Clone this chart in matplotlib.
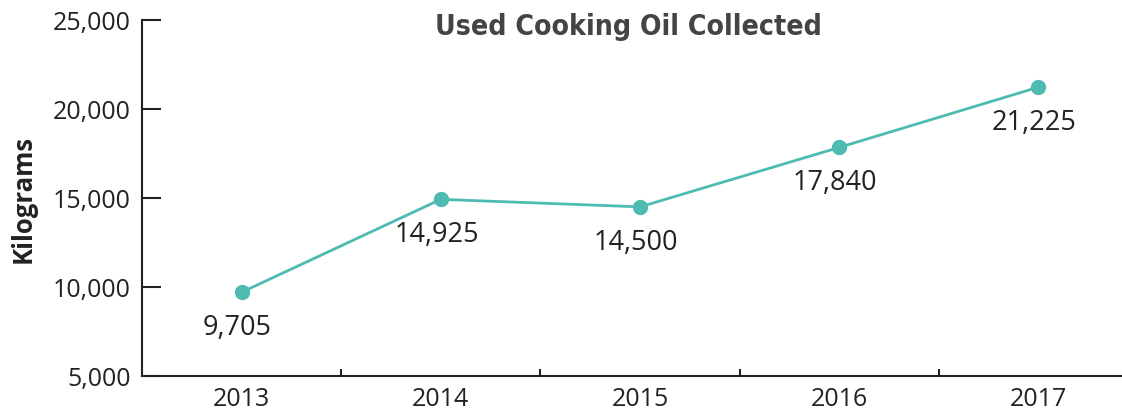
import matplotlib.pyplot as plt
from matplotlib.ticker import FuncFormatter

years = ['2013', '2014', '2015', '2016', '2017']
kilograms = [9705, 14925, 14500, 17840, 21225]

line_color = '#4dbbb0'
text_color = '#222222'

plt.rcParams['font.family'] = ['Open Sans', 'DejaVu Sans']

fig = plt.figure(figsize=(11.22, 4.10), dpi=100)
ax = fig.add_axes([0.1266, 0.0805, 0.8734, 0.8683])

x = list(range(len(years)))
ax.plot(x, kilograms, color=line_color, linewidth=2, marker='o', markersize=10, zorder=3)

for xi, val in zip(x, kilograms):
    ax.annotate(f'{val:,}', (xi, val), xytext=(-3, -25), textcoords='offset points',
                ha='center', va='center', fontsize=19.5, color=text_color)

ax.set_xlim(-0.5, 4.42)
ax.set_ylim(5000, 25000)
ax.set_yticks([5000, 10000, 15000, 20000, 25000])
ax.yaxis.set_major_formatter(FuncFormatter(lambda v, p: f'{int(v):,}'))

ax.set_xticks(x)
ax.set_xticklabels(years)
ax.set_xticks([0.5, 1.5, 2.5, 3.5], minor=True)
ax.tick_params(axis='x', which='major', length=0, pad=7, labelsize=18, labelcolor=text_color)
ax.tick_params(axis='x', which='minor', direction='in', length=5, width=1.5, color=text_color)
ax.tick_params(axis='y', direction='in', length=14, width=1.5, pad=8, labelsize=18,
               labelcolor=text_color, color=text_color)

for side in ['top', 'right']:
    ax.spines[side].set_visible(False)
for side in ['left', 'bottom']:
    ax.spines[side].set_linewidth(1.5)
    ax.spines[side].set_color(text_color)

ax.set_ylabel('Kilograms', fontsize=18.5, fontweight='bold', color=text_color, labelpad=12)
fig.text(0.56, 0.935, 'Used Cooking Oil Collected', ha='center', va='center', fontsize=20.3,
         fontweight='bold', fontstretch='condensed', color='#444444',
         family=['DejaVu Sans'])

fig.savefig('out.png', dpi=100)
